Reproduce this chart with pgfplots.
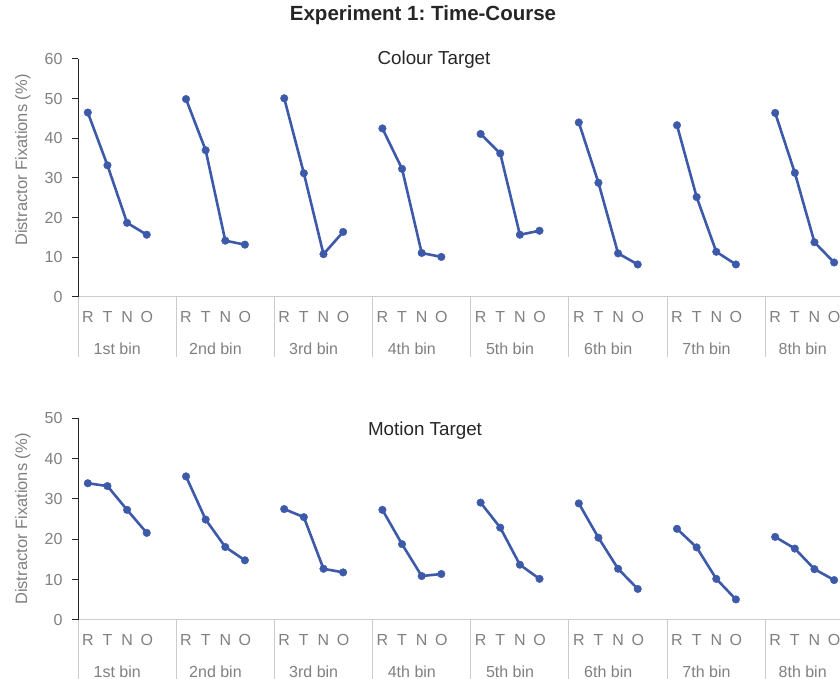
\documentclass[border=0pt]{standalone}
\usepackage{pgfplots}
\pgfplotsset{compat=1.18}
\usepackage{fontspec}
\setmainfont{Liberation Sans}
\frenchspacing

\definecolor{serie}{RGB}{61,90,170}
\definecolor{lbl}{RGB}{128,128,128}
\definecolor{sep}{RGB}{204,204,204}
\definecolor{ttl}{RGB}{38,38,38}

\newcommand{\fs}[1]{\fontsize{#1}{#1}\selectfont}

\tikzset{binlab/.style={font=\fs{16}, text=lbl, yshift=-51.5pt}}

\pgfplotsset{
  binpanel/.style={
    scale only axis, width=762pt, anchor=south west,
    xmin=-0.5, xmax=38.3, ymin=0,
    clip=false,
    axis x line=bottom, axis y line=left,
    axis line style={-},
    x axis line style={draw=sep, line width=1pt},
    y axis line style={draw=black!85, line width=1pt},
    xtick={0,1,2,3,5,6,7,8,10,11,12,13,15,16,17,18,20,21,22,23,25,26,27,28,30,31,32,33,35,36,37,38},
    xticklabels={R,T,N,O,R,T,N,O,R,T,N,O,R,T,N,O,R,T,N,O,R,T,N,O,R,T,N,O,R,T,N,O},
    tick style={draw=none},
    major tick length=6pt, tick align=outside,
    /pgf/number format/assume math mode=true,
    tick label style={font=\fs{16}, text=lbl},
    xticklabel style={yshift=-5pt},
    yticklabel style={xshift=-6pt},
    ylabel={Distractor Fixations (\%)},
    ylabel style={font=\fs{16.5}, text=lbl, anchor=center},
  },
  series/.style={serie, line width=2.6pt, mark=*, mark size=3.8pt,
    mark options={line width=0.4pt}, unbounded coords=jump},
}

% separators between the bins and tick marks on the value axis
\newcommand{\decor}[1]{%
  \pgfplotsinvokeforeach{-0.5,4.5,9.5,14.5,19.5,24.5,29.5,34.5}{%
    \draw[sep, line width=1pt] (axis cs:##1,0) -- ([yshift=-60pt]axis cs:##1,0);}
  \pgfplotsinvokeforeach{#1}{%
    \draw[black!85, line width=1pt] (axis cs:-0.5,##1) -- ([xshift=-6pt]axis cs:-0.5,##1);}
  \node[binlab] at (axis cs:1.5,0) {1st bin};
  \node[binlab] at (axis cs:6.5,0) {2nd bin};
  \node[binlab] at (axis cs:11.5,0) {3rd bin};
  \node[binlab] at (axis cs:16.5,0) {4th bin};
  \node[binlab] at (axis cs:21.5,0) {5th bin};
  \node[binlab] at (axis cs:26.5,0) {6th bin};
  \node[binlab] at (axis cs:31.5,0) {7th bin};
  \node[binlab] at (axis cs:36.4,0) {8th bin};
}

\begin{document}
\begin{tikzpicture}
\useasboundingbox (0,0) rectangle (840pt,679pt);

\node[font=\bfseries\fs{20.5}, text=ttl] at (423pt,663.5pt) {Experiment 1: Time-Course};

% Colour target panel
\begin{axis}[binpanel, at={(78pt,382pt)}, height=238pt, ymax=60,
  ytick={0,10,20,30,40,50,60},
  ylabel style={at={(axis description cs:-0.0722,0.575)}}]
\addplot[series] coordinates {
  (0,46.5) (1,33.2) (2,18.7) (3,15.7) (4,nan)
  (5,49.9) (6,37.0) (7,14.2) (8,13.2) (9,nan)
  (10,50.1) (11,31.2) (12,10.8) (13,16.4) (14,nan)
  (15,42.5) (16,32.3) (17,11.1) (18,10.1) (19,nan)
  (20,41.1) (21,36.2) (22,15.7) (23,16.7) (24,nan)
  (25,44.0) (26,28.8) (27,11.0) (28,8.2) (29,nan)
  (30,43.3) (31,25.2) (32,11.4) (33,8.2) (34,nan)
  (35,46.4) (36,31.3) (37,13.8) (38,8.7)
};
\decor{0,10,20,30,40,50,60}
\end{axis}
\node[font=\fs{18.8}, text=ttl] at (434pt,619pt) {Colour Target};

% Motion target panel
\begin{axis}[binpanel, at={(78pt,59pt)}, height=201.7pt, ymax=50,
  ytick={0,10,20,30,40,50},
  ylabel style={at={(axis description cs:-0.0722,0.5)}}]
\addplot[series] coordinates {
  (0,33.9) (1,33.2) (2,27.3) (3,21.6) (4,nan)
  (5,35.6) (6,24.9) (7,18.1) (8,14.8) (9,nan)
  (10,27.5) (11,25.5) (12,12.7) (13,11.8) (14,nan)
  (15,27.3) (16,18.8) (17,10.9) (18,11.4) (19,nan)
  (20,29.1) (21,22.9) (22,13.7) (23,10.2) (24,nan)
  (25,28.9) (26,20.4) (27,12.7) (28,7.7) (29,nan)
  (30,22.6) (31,18.0) (32,10.2) (33,5.1) (34,nan)
  (35,20.6) (36,17.7) (37,12.6) (38,9.9)
};
\decor{0,10,20,30,40,50}
\end{axis}
\node[font=\fs{18.8}, text=ttl] at (425pt,248pt) {Motion Target};
\end{tikzpicture}
\end{document}
